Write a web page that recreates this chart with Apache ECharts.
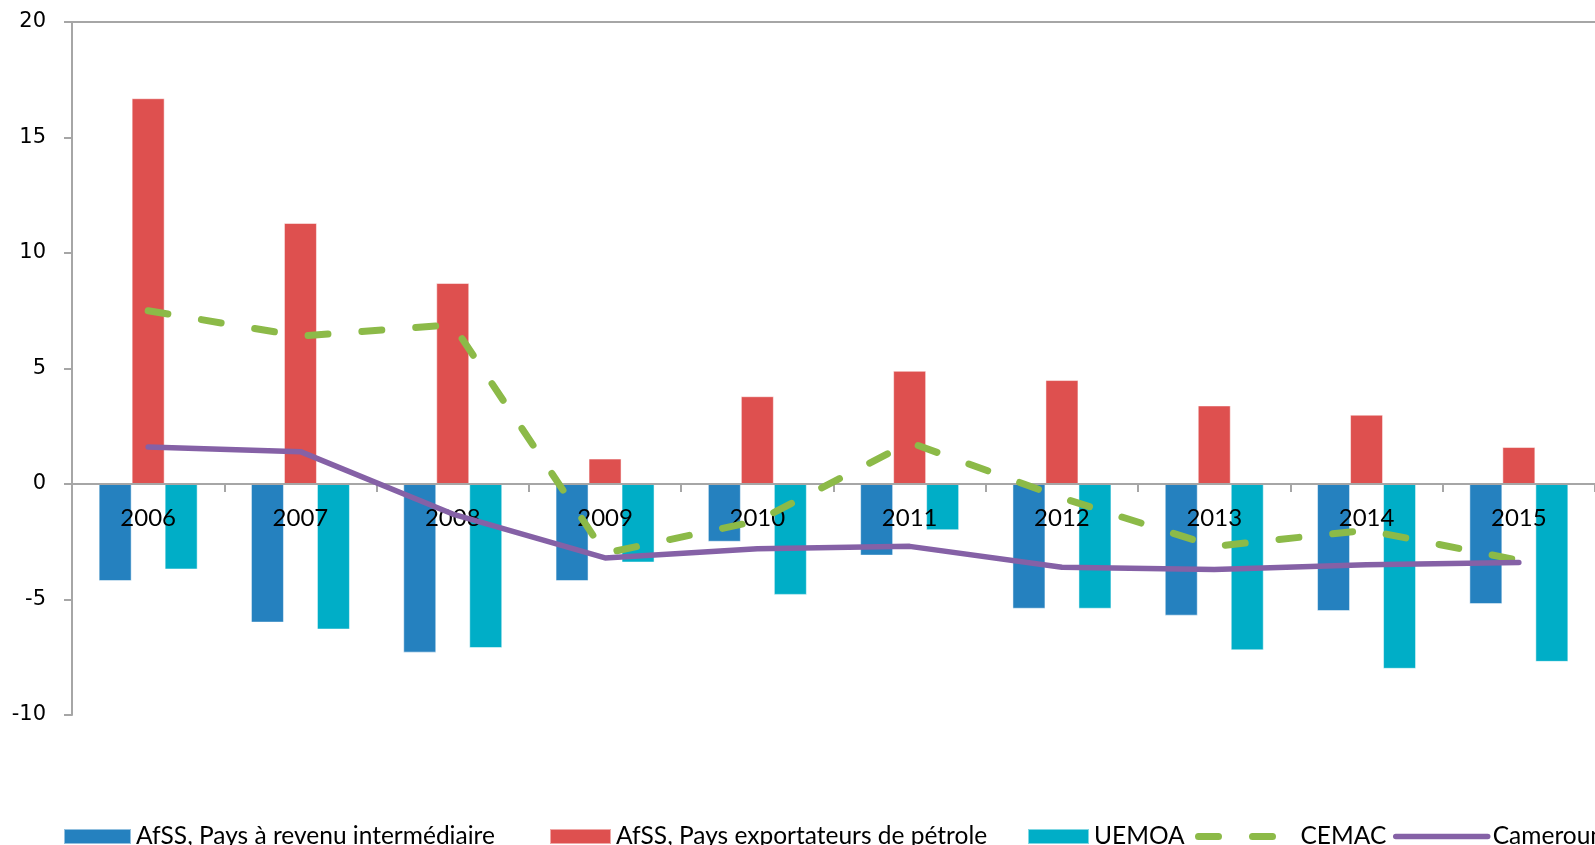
<!DOCTYPE html>
<html><head><meta charset="utf-8">
<script src="https://cdn.jsdelivr.net/npm/echarts@6/dist/echarts.min.js"></script>
<style>html,body{margin:0;padding:0;background:#fff}#c{width:1595px;height:845px}</style>
</head><body><div id="c"></div>
<script>
const categories = ['2006','2007','2008','2009','2010','2011','2012','2013','2014','2015'];
const revenuInter = [-4.2,-6.0,-7.3,-4.2,-2.5,-3.1,-5.4,-5.7,-5.5,-5.2];
const exportPetrole = [16.7,11.3,8.7,1.1,3.8,4.9,4.5,3.4,3.0,1.6];
const uemoa = [-3.7,-6.3,-7.1,-3.4,-4.8,-2.0,-5.4,-7.2,-8.0,-7.7];
const cemac = [7.5,6.4,6.9,-3.0,-1.6,1.8,-0.6,-2.7,-2.0,-3.3];
const cameroun = [1.6,1.4,-1.3,-3.2,-2.8,-2.7,-3.6,-3.7,-3.5,-3.4];
const yMin = -10, yMax = 20, yStep = 5;
const names = ['AfSS, Pays à revenu intermédiaire','AfSS, Pays exportateurs de pétrole','UEMOA','CEMAC','Cameroun'];

const W = 1595, H = 845;
const gridTop = 22, gridBottom = 130;
const plotH = H - gridTop - gridBottom;
const zeroOffset = -plotH * (0 - yMin) / (yMax - yMin);

const axisGray = '#A6A6A6';
const legendText = {fontFamily:'Lato', fontSize:24.5, color:'#000'};
function leg(name, left, w, extra){
  return Object.assign({data:[name], left:left - 5, top:819, itemWidth:w, itemHeight:15,
          textStyle:legendText, selectedMode:false}, extra||{});
}
const nTicks = (yMax - yMin) / yStep + 1;
const splitColors = [];
for (let i = 0; i < nTicks; i++) splitColors.push(i === nTicks - 1 ? axisGray : 'rgba(0,0,0,0)');

const chart = echarts.init(document.getElementById('c'));
chart.setOption({
  animation:false,
  backgroundColor:'#fff',
  grid:{left:72, right:-10, top:gridTop, bottom:gridBottom, containLabel:false},
  legend:[
    leg(names[0], 63, 67, {icon:'rect'}),
    leg(names[1], 549, 61, {icon:'rect'}),
    leg(names[2], 1027, 61, {icon:'rect'}),
    leg(names[3], 1195, 97, {itemStyle:{color:'rgba(0,0,0,0)', borderWidth:0},
        lineStyle:{width:7, type:[20,34], cap:'round', color:'#8CBA48'}}),
    leg(names[4], 1393, 92, {itemStyle:{color:'rgba(0,0,0,0)', borderWidth:0},
        lineStyle:{width:5.5, color:'#8561A6'}})
  ],
  xAxis:{
    type:'category', data:categories, z:3, position:'bottom', offset:zeroOffset,
    axisLine:{onZero:false, lineStyle:{color:axisGray, width:2}},
    axisTick:{show:true, length:8, inside:false, lineStyle:{color:axisGray, width:2}},
    axisLabel:{fontFamily:'Lato', fontSize:24, color:'#000', margin:22},
    splitLine:{show:false}
  },
  yAxis:{
    type:'value', min:yMin, max:yMax, interval:yStep,
    axisLine:{show:true, onZero:false, lineStyle:{color:axisGray, width:2}},
    axisTick:{show:true, length:8, lineStyle:{color:axisGray, width:2}},
    axisLabel:{fontFamily:'DejaVu Sans', fontSize:21, color:'#000', margin:26},
    splitLine:{show:true, lineStyle:{color:splitColors, width:2}}
  },
  series:[
    {name:names[0], type:'bar', data:revenuInter, barGap:'0%', barCategoryGap:'35%',
     itemStyle:{color:'#2581BF', borderColor:'rgba(255,255,255,0.5)', borderWidth:1}},
    {name:names[1], type:'bar', data:exportPetrole,
     itemStyle:{color:'#DE504F', borderColor:'rgba(255,255,255,0.5)', borderWidth:1}},
    {name:names[2], type:'bar', data:uemoa,
     itemStyle:{color:'#00AEC7', borderColor:'rgba(255,255,255,0.5)', borderWidth:1}},
    {name:names[3], type:'line', data:cemac, symbol:'none', z:5,
     lineStyle:{color:'#8CBA48', width:7, type:[20,34], cap:'round'}, itemStyle:{color:'#8CBA48'}},
    {name:names[4], type:'line', data:cameroun, symbol:'none', z:5,
     lineStyle:{color:'#8561A6', width:5.5, cap:'round'}, itemStyle:{color:'#8561A6'}}
  ]
});
</script></body></html>
